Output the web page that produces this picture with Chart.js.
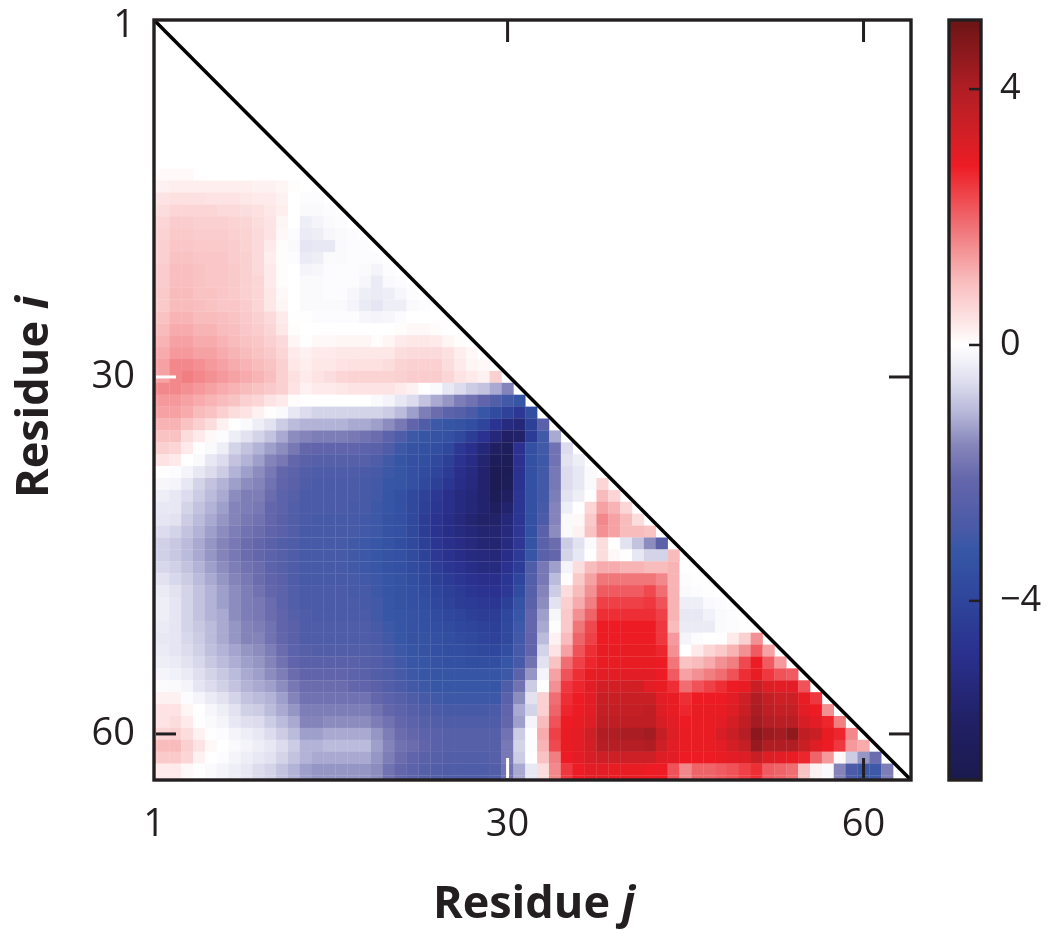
<!DOCTYPE html>
<html><head><meta charset="utf-8">
<style>html,body{margin:0;padding:0;background:#fff;width:1050px;height:938px;overflow:hidden}canvas{position:absolute;top:0;filter:blur(.5px)}</style>
<script src="https://cdn.jsdelivr.net/npm/chart.js@4"></script></head><body>
<canvas id="main" width="1050" height="938" style="left:0"></canvas>
<canvas id="bar" width="120" height="938" style="left:930px"></canvas>
<script>
const xTicks=[30,60], yTicks=[30,60], barTicks=[-4,0,4];
const xTitle=['Residue ','j'], yTitle=['Residue ','i'];
const cmapValues=[-6.8,-5.9,-4.8,-3.9,-3.2,-2.85,-2.1,-1.55,-1.1,-.6,-.2,0,.4,1,1.8,2.8,3.3,4,5.08];
const cmapColors=['#1a1a4e','#212065','#2a318f','#2f479c','#3757a6','#4a5aa7','#6466ab','#8787bb','#b3b3d7','#dcdcee','#f4f4fa','#ffffff','#fde3e3','#f9bcbd','#f0767a','#ed1c24','#d21f26','#b01e24','#6b1416'];
const row13=[.08,.08,.08];
const row14=[.2,.25,.25,.25,.25,.25,.25,.25,.2,.2,.15,.05,0];
const row15=[.4,.45,.45,.45,.4,.4,.4,.35,.3,.3,.2,0,-.05,-.05];
const row16=[.5,.6,.6,.6,.6,.55,.55,.5,.45,.35,.25,0,-.1,-.1,-.05];
const row17=[.6,.75,.75,.7,.7,.7,.65,.6,.5,.4,.15,0,-.3,-.2,-.1,-.05];
const row18=[.65,.8,.8,.75,.75,.75,.7,.65,.55,.4,.1,-.05,-.35,-.3,-.15,-.1,-.05];
const row19=[.7,.85,.85,.8,.8,.8,.75,.65,.55,.3,.05,-.1,-.45,-.4,-.4,-.1,-.05,-.05];
const row20=[.7,.9,.9,.85,.85,.85,.75,.7,.55,.25,.05,-.05,-.35,-.3,-.1,-.1,-.05,-.05,-.05];
const row21=[.75,.95,.95,.9,.85,.85,.8,.7,.55,.3,.05,0,-.2,-.15,-.05,-.05,-.05,-.1,-.2,-.05];
const row22=[.75,.95,.95,.9,.85,.85,.8,.7,.6,.3,.05,0,-.1,-.1,-.05,-.05,-.05,-.15,-.35,-.1,-.05];
const row23=[.8,1,1,.9,.9,.85,.8,.7,.6,.35,.1,0,-.1,-.1,-.05,-.05,-.15,-.3,-.35,-.3,-.15,-.05];
const row24=[.8,1,1,.95,.9,.85,.85,.75,.6,.35,.15,0,-.1,-.1,-.1,-.1,-.2,-.35,-.45,-.3,-.3,-.1,-.05];
const row25=[.9,1.1,1.1,1,1,.95,.9,.8,.7,.55,.3,.02,-.02,-.05,-.05,-.05,-.05,-.15,-.2,-.15,-.05,0,0,0];
const row26=[1,1.2,1.2,1.1,1.1,1,.95,.85,.75,.6,.35,.05,0,0,0,0,0,0,0,0,.05,.1,.1,.05,0];
const row27=[1.1,1.3,1.3,1.2,1.2,1.1,1,.9,.85,.7,.55,.15,.02,.1,.1,.15,.15,.15,.05,.15,.3,.35,.35,.3,.15,.05];
const row28=[1.2,1.4,1.4,1.3,1.3,1.2,1.1,1,.9,.8,.6,.3,.2,.3,.3,.35,.35,.35,.35,.35,.5,.55,.55,.55,.45,.25,.1];
const row29=[1.3,1.6,1.6,1.5,1.4,1.3,1.2,1.1,1,.9,.7,.35,.25,.35,.35,.4,.45,.45,.45,.5,.65,.7,.7,.7,.5,.3,.15,.1];
const row30=[1.3,1.6,1.7,1.6,1.5,1.4,1.3,1.2,1.1,.95,.7,.45,.3,.4,.5,.6,.65,.65,.65,.65,.7,.75,.75,.75,.6,.4,.3,.2,.7];
const row31=[1.6,1.6,1.5,1.4,1.3,1.2,1.1,1,.9,.8,.7,.4,.2,.3,.3,.35,.4,.4,.4,.4,.3,.2,0,-.1,-.4,-.6,-.8,-.9,-1.2,-1.6];
const row32=[1.4,1.4,1.3,1.2,1.1,1,.9,.7,.6,.4,.3,.05,0,0,0,0,0,0,-.1,-.2,-.4,-.6,-.9,-1.2,-1.4,-1.7,-1.9,-2.2,-2.6,-3,-3.3];
const row33=[1.3,1.3,1.2,1,.9,.7,.5,.4,.2,.05,-.1,-.4,-.6,-.7,-.7,-.7,-.7,-.7,-.7,-.8,-1,-1.3,-1.7,-2,-2.3,-2.5,-2.8,-3.2,-3.7,-4.1,-4.5,-3.6];
const row34=[1.1,1.1,.9,.7,.5,.2,0,-.1,-.3,-.5,-.8,-1,-1.1,-1.1,-1.1,-1.1,-1.2,-1.2,-1.3,-1.5,-1.8,-2.2,-2.7,-3.1,-3.3,-3.4,-3.6,-4,-4.7,-5.2,-5.4,-4.2,-2.4];
const row35=[.9,.9,.5,.3,.1,-.05,-.3,-.5,-.7,-.9,-1.2,-1.5,-1.6,-1.7,-1.7,-1.7,-1.8,-1.9,-2,-2.3,-2.7,-3.1,-3.3,-3.4,-3.5,-3.8,-4.3,-4.8,-5.4,-5.9,-5.8,-4.4,-3,-1.2];
const row36=[.7,.6,.3,0,-.1,-.3,-.7,-.9,-1.1,-1.3,-1.5,-1.8,-2.1,-2.2,-2.2,-2.2,-2.2,-2.3,-2.4,-2.7,-3.1,-3.4,-3.5,-3.6,-3.9,-4.5,-4.9,-5.4,-6,-6.2,-4.8,-3.5,-3,-1.9,-.6];
const row37=[.4,.3,0,-.1,-.4,-.6,-.9,-1.1,-1.3,-1.6,-1.8,-2.1,-2.4,-2.5,-2.5,-2.5,-2.5,-2.5,-2.7,-3,-3.3,-3.5,-3.6,-3.8,-4.2,-4.7,-5.1,-5.6,-6.3,-6.4,-4.8,-3.5,-3.1,-1.9,-.5,-.3];
const row38=[-.02,-.05,-.2,-.4,-.6,-.8,-1.1,-1.3,-1.5,-1.8,-2.1,-2.3,-2.6,-2.7,-2.7,-2.7,-2.7,-2.8,-2.9,-3.1,-3.3,-3.5,-3.7,-4,-4.4,-4.9,-5.2,-5.7,-6.6,-6.5,-4.8,-3.5,-3,-1.8,-.6,-.4,-.1];
const row39=[-.15,-.2,-.4,-.7,-.9,-1.1,-1.3,-1.5,-1.6,-1.9,-2.2,-2.4,-2.7,-2.8,-2.8,-2.8,-2.8,-2.9,-3,-3.2,-3.3,-3.5,-3.8,-4.2,-4.6,-5,-5.3,-5.7,-6.6,-6.4,-4.7,-3.5,-3,-1.8,-.6,-.4,-.1,.6];
const row40=[-.3,-.4,-.6,-.8,-1,-1.2,-1.5,-1.7,-1.7,-2,-2.3,-2.5,-2.8,-2.8,-2.8,-2.8,-2.8,-2.9,-3,-3.3,-3.5,-3.8,-4.1,-4.5,-4.9,-5.2,-5.4,-5.7,-6.5,-6,-4.6,-3.5,-3,-1.7,-.5,-.3,0,1,.6];
const row41=[-.4,-.4,-.7,-.9,-1.1,-1.3,-1.6,-1.7,-1.8,-2.1,-2.3,-2.6,-2.8,-2.8,-2.8,-2.8,-2.9,-2.9,-3.1,-3.3,-3.5,-3.8,-4.2,-4.6,-4.9,-5.2,-5.4,-5.7,-6.1,-5.7,-4.6,-3.5,-2.9,-1.6,-.3,0,.6,1.3,1.1,.6];
const row42=[-.45,-.5,-.8,-1,-1.2,-1.4,-1.6,-1.8,-1.9,-2.1,-2.4,-2.6,-2.8,-2.9,-2.9,-2.9,-2.9,-3,-3.1,-3.4,-3.5,-3.8,-4.3,-4.7,-5,-5.3,-5.6,-5.8,-5.8,-5.4,-4.6,-3.5,-2.8,-1.6,-.1,.1,.8,1.6,1.3,1,.5];
const row43=[-.6,-.7,-.9,-1.1,-1.3,-1.5,-1.7,-1.9,-2,-2.2,-2.4,-2.6,-2.9,-2.9,-2.9,-2.9,-2.9,-3,-3.1,-3.4,-3.5,-3.8,-4.3,-4.7,-5,-5.2,-5.4,-5.6,-5.6,-5.3,-4.5,-3.5,-2.4,-1.5,-.1,.2,.9,1.5,1.3,1,1,.9];
const row44=[-.75,-.85,-1,-1.2,-1.4,-1.6,-1.8,-2,-2.1,-2.4,-2.6,-2.7,-2.9,-2.9,-2.9,-2.9,-3,-3.1,-3.2,-3.4,-3.6,-3.8,-4.2,-4.6,-4.9,-5.1,-5.3,-5.5,-5.6,-5.2,-4.5,-3.4,-2.4,-2,-.8,-.5,-.1,.5,0,-.5,-.9,-1.5,-2.4];
const row45=[-.75,-.85,-1,-1.2,-1.4,-1.6,-1.8,-2,-2.1,-2.3,-2.5,-2.7,-2.9,-2.9,-2.9,-2.9,-3,-3.1,-3.2,-3.4,-3.5,-3.7,-4.1,-4.5,-4.8,-5,-5.2,-5.3,-5.4,-5,-4.4,-3.3,-2.4,-2.1,-.7,-.4,0,.5,.1,.02,-.4,-.7,-.7,1];
const row46=[-.65,-.75,-.9,-1.1,-1.3,-1.5,-1.7,-1.9,-2,-2.3,-2.5,-2.7,-2.9,-2.9,-2.9,-2.9,-3,-3.1,-3.2,-3.4,-3.5,-3.7,-3.9,-4.3,-4.6,-4.8,-5,-5.2,-5.2,-4.8,-4.3,-2.7,-1.8,-1.3,-.2,.5,1,1.2,1.2,1.1,1.1,1,1,1.1,-.02];
const row47=[-.5,-.65,-.8,-1,-1.2,-1.4,-1.6,-1.8,-2,-2.2,-2.4,-2.7,-2.9,-2.9,-2.9,-2.9,-2.9,-3,-3.1,-3.3,-3.4,-3.6,-3.8,-4.2,-4.4,-4.6,-4.8,-4.9,-4.9,-4.6,-4,-2.6,-1.8,-1,.05,.8,1.3,1.8,1.8,1.8,1.8,1.8,1.6,1.1,-.05,-.02];
const row48=[-.35,-.5,-.7,-.9,-1.1,-1.3,-1.5,-1.7,-1.9,-2.1,-2.3,-2.6,-2.8,-2.8,-2.8,-2.8,-2.9,-2.9,-3.1,-3.3,-3.4,-3.5,-3.7,-4,-4.2,-4.4,-4.6,-4.7,-4.8,-4.5,-3.7,-2.5,-1.6,-.8,.5,1,1.5,2.1,2.1,2.1,2.1,2.3,1.9,1.1,-.1,-.05,-.02];
const row49=[-.3,-.45,-.7,-.9,-1.1,-1.3,-1.5,-1.7,-1.8,-2,-2.3,-2.6,-2.8,-2.8,-2.8,-2.8,-2.8,-2.9,-3,-3.2,-3.4,-3.5,-3.6,-3.9,-4.1,-4.3,-4.4,-4.5,-4.6,-4.2,-3.4,-2.4,-1.5,-.5,.7,1.2,1.7,2.4,2.4,2.4,2.4,2.5,2.2,1.1,-.3,-.3,-.1,-.05];
const row50=[-.3,-.45,-.7,-.9,-1.1,-1.2,-1.5,-1.7,-1.8,-2,-2.2,-2.5,-2.7,-2.8,-2.8,-2.8,-2.8,-2.8,-3,-3.2,-3.3,-3.4,-3.5,-3.7,-3.9,-4,-4.2,-4.3,-4.3,-3.9,-3.2,-2.1,-1.3,-.15,.8,1.5,2,2.6,2.6,2.6,2.6,2.6,2.4,1.1,-.4,-.4,-.25,-.1,-.05];
const row51=[-.35,-.45,-.7,-.85,-1,-1.2,-1.4,-1.6,-1.7,-1.9,-2.2,-2.4,-2.7,-2.7,-2.7,-2.7,-2.7,-2.7,-2.9,-3.1,-3.3,-3.4,-3.5,-3.6,-3.7,-3.9,-4,-4.1,-4.2,-3.8,-3.1,-2.1,-1.2,-.03,.8,1.8,2.3,2.8,2.8,2.8,2.8,2.8,2.5,1,-.35,-.35,-.35,-.1,-.05,-.02];
const row52=[-.4,-.45,-.65,-.8,-1,-1.2,-1.4,-1.6,-1.6,-1.9,-2.1,-2.4,-2.7,-2.7,-2.7,-2.7,-2.7,-2.7,-2.8,-3,-3.2,-3.4,-3.4,-3.5,-3.6,-3.7,-3.8,-4,-4.1,-3.8,-3,-2.2,-1,.2,1,2,2.4,2.8,2.8,2.8,2.8,2.8,2.5,1.4,-.2,-.05,0,.02,.3,.7,1.5];
const row53=[-.35,-.45,-.6,-.75,-.95,-1.1,-1.25,-1.4,-1.5,-1.7,-2,-2.3,-2.5,-2.6,-2.6,-2.6,-2.6,-2.6,-2.7,-2.9,-3.1,-3.3,-3.4,-3.5,-3.6,-3.6,-3.7,-3.8,-3.9,-3.6,-2.9,-2.2,-.7,.4,1.3,2.2,2.6,2.9,2.9,2.9,2.9,2.9,2.7,1.5,0,.3,.6,.8,1.1,1.5,2.1,1.3];
const row54=[-.3,-.35,-.5,-.65,-.85,-1,-1.15,-1.3,-1.4,-1.6,-1.9,-2.2,-2.4,-2.4,-2.4,-2.4,-2.4,-2.5,-2.6,-2.8,-3,-3.2,-3.3,-3.4,-3.5,-3.5,-3.6,-3.6,-3.6,-3.3,-2.9,-1.9,-.5,.9,1.9,2.4,2.7,2.9,2.9,2.9,2.9,2.9,2.8,1.8,.9,1,1.2,1.5,1.7,2.3,2.8,2.1,1.4];
const row55=[-.2,-.25,-.35,-.55,-.7,-.85,-1,-1.2,-1.3,-1.5,-1.7,-2,-2.2,-2.2,-2.2,-2.2,-2.3,-2.4,-2.6,-2.7,-2.9,-3.1,-3.2,-3.3,-3.3,-3.3,-3.3,-3.3,-3.3,-3.1,-2.3,-1.4,-.2,1.3,2.2,2.6,2.9,3,3,3,3,3,2.8,2.1,1.3,1.5,1.7,1.9,2.2,2.6,2.9,2.5,2.2,2.1];
const row56=[-.08,-.1,-.2,-.45,-.6,-.75,-.9,-1.1,-1.2,-1.3,-1.5,-1.8,-2,-2,-2,-2,-2.1,-2.2,-2.4,-2.6,-2.8,-3,-3.1,-3.2,-3.2,-3.2,-3.2,-3.2,-3.3,-2.7,-1.9,-.8,0,1.5,2.5,2.7,3,3.3,3.3,3.3,3.3,3,2.9,2.6,1.9,2.2,2.4,2.6,2.8,2.9,3.5,3.1,3,3,2.2];
const row57=[.2,.2,-.05,-.2,-.35,-.5,-.7,-.9,-1,-1.1,-1.3,-1.6,-1.9,-1.9,-1.9,-1.9,-1.9,-1.9,-2.1,-2.3,-2.5,-2.7,-2.9,-3,-3.1,-3.1,-3.1,-3.1,-3.1,-2.4,-1.5,-.5,.7,1.9,2.6,2.8,3,3.5,3.5,3.5,3.5,3.5,3,2.9,2.6,2.8,2.8,2.8,3,3.4,4,3.6,3.4,3.4,2.9,2.5];
const row58=[.4,.4,.15,0,-.15,-.3,-.5,-.75,-.8,-1,-1.2,-1.4,-1.7,-1.7,-1.7,-1.7,-1.7,-1.7,-1.9,-2.1,-2.3,-2.5,-2.7,-2.8,-2.9,-2.9,-2.9,-2.9,-2.8,-2.2,-1.2,-.7,.7,2,2.7,2.8,3,3.6,3.6,3.6,3.6,3.7,3.1,2.9,2.7,2.9,2.9,2.9,3.1,3.5,4.1,3.7,3.6,3.6,3,2.8,1.5];
const row59=[.4,.5,.3,.02,-.1,-.2,-.4,-.55,-.6,-.8,-1,-1.2,-1.6,-1.6,-1.5,-1.5,-1.5,-1.5,-1.7,-1.9,-2.1,-2.3,-2.5,-2.6,-2.7,-2.7,-2.7,-2.7,-2.7,-2.1,-1.3,-.2,1,2.2,2.8,2.9,3.1,3.7,3.7,3.7,3.7,3.7,3.2,3,2.8,2.9,2.9,3,3.3,3.7,4.2,3.9,3.8,3.8,3.2,3,2.7,1.7];
const row60=[.6,.7,.5,.2,.02,-.05,-.2,-.3,-.4,-.6,-.8,-1,-1.3,-1.3,-1.2,-1.2,-1.2,-1.2,-1.4,-1.7,-2,-2.1,-2.3,-2.4,-2.5,-2.5,-2.5,-2.5,-2.5,-1.9,-.8,-.03,1.2,2.4,2.9,3,3.4,4,4,4.1,4.1,4.2,3.6,3.1,2.9,2.9,2.9,3.2,3.5,3.9,4.6,4.3,4.2,4.5,3.7,3.5,2.9,2.7,1.6];
const row61=[1,1,.7,.4,.1,0,-.1,-.2,-.3,-.4,-.6,-.8,-1.1,-1.1,-1,-1,-1,-1,-1.3,-1.6,-1.9,-2,-2.2,-2.4,-2.5,-2.5,-2.5,-2.5,-2.5,-1.8,-.7,-.05,1.1,2.3,2.9,3,3.3,3.9,3.9,3.9,3.9,4,3.4,3,2.9,2.9,2.9,3,3.3,3.6,4.4,4,4,4,3.5,3.1,2.8,2.5,1.4,1.2];
const row62=[.8,.8,.6,.2,0,-.05,-.2,-.3,-.4,-.5,-.7,-.9,-1.1,-1.2,-1.2,-1.2,-1.2,-1.2,-1.4,-1.7,-2,-2.2,-2.4,-2.5,-2.6,-2.6,-2.6,-2.6,-2.5,-1.8,-.8,0,.9,1.7,2.8,3,3.2,3.4,3.4,3.4,3.4,3.4,3.1,3,2.8,2.8,2.8,2.9,3,3.1,3.5,3.1,3,2.9,2.7,2,1.4,.1,-.8,-1.4,-2];
const row63=[.3,.3,.1,.02,-.1,-.2,-.3,-.4,-.6,-.7,-.9,-1.1,-1.3,-1.4,-1.4,-1.4,-1.4,-1.4,-1.5,-1.9,-2.1,-2.3,-2.5,-2.6,-2.7,-2.7,-2.7,-2.7,-2.6,-1.9,-1.2,-.4,.5,1.6,2.5,2.8,3,3,2.9,2.9,2.9,2.8,2.8,2.2,1.6,2,2,2.1,2.2,2.4,2.6,2.1,2,1.9,.9,.2,-.1,-1.6,-2.8,-3.1,-3.1,-1.7];
const rows=[row13,row14,row15,row16,row17,row18,row19,row20,row21,row22,row23,row24,row25,row26,row27,row28,row29,row30,row31,row32,row33,row34,row35,row36,row37,row38,row39,row40,row41,row42,row43,row44,row45,row46,row47,row48,row49,row50,row51,row52,row53,row54,row55,row56,row57,row58,row59,row60,row61,row62,row63];
const firstRow=13;

function hex(c){return [1,3,5].map(i=>parseInt(c.substr(i,2),16));}
function colorFor(v){
  let k=0; while(k<cmapValues.length-2&&v>cmapValues[k+1])k++;
  const t=Math.max(0,Math.min(1,(v-cmapValues[k])/(cmapValues[k+1]-cmapValues[k])));
  const a=hex(cmapColors[k]),b=hex(cmapColors[k+1]);
  return 'rgb('+a.map((p,n)=>Math.round(p+(b[n]-p)*t)).join(',')+')';
}
const xMin=.2,xMax=64,yMin=0,yMax=63.87,yFirstLabelAt=.5;
const INK='#231f20', FONT='"Open Sans"';
const cells=[],cellColors=[];
function addCell(x,y,v){cells.push({x,y});cellColors.push(colorFor(v));}
rows.forEach((r,ri)=>{const y=firstRow+ri;r.forEach((v,j)=>{
  addCell(j+1,y,v);
  if(j===0)addCell(0,y,v);               // sliver of the grid cut by the left frame
  if(y===rows.length+firstRow-1){addCell(j+1,y+1,v);if(j===0)addCell(0,y+1,v);} // sliver cut by the bottom frame
});});

const frame={id:'frame',afterDatasetsDraw(c){
  const g=c.ctx,a=c.chartArea,X=c.scales.x,Y=c.scales.y,L=22;
  g.save();g.lineWidth=3.4;g.strokeStyle=INK;g.strokeRect(a.left,a.top,a.width,a.height);
  const seg=(x0,y0,x1,y1,col)=>{g.beginPath();g.strokeStyle=col;g.lineWidth=3;g.moveTo(x0,y0);g.lineTo(x1,y1);g.stroke();};
  xTicks.forEach((t,n)=>{const p=X.getPixelForValue(t);
    seg(p,a.top,p,a.top+L,INK);
    seg(p,a.bottom-2,p,a.bottom-L,n===0?'#fff':INK);});
  yTicks.forEach((t,n)=>{const p=Y.getPixelForValue(t);
    seg(a.right,p,a.right-L,p,INK);
    seg(a.left+2,p,a.left+L,p,n===0?'#fff':INK);});
  g.fillStyle=INK;g.textBaseline='alphabetic';
  const title=(parts,cx,cy,rot)=>{
    g.save();g.translate(cx,cy);g.rotate(rot);
    const f1='700 45px '+FONT,f2='italic 700 45px '+FONT;
    g.font=f1;const w1=g.measureText(parts[0]).width;g.font=f2;const w2=g.measureText(parts[1]).width;
    g.textAlign='left';
    g.font=f1;g.fillText(parts[0],-(w1+w2)/2,0);
    g.font=f2;g.fillText(parts[1],-(w1+w2)/2+w1,0);
    g.restore();};
  title(xTitle,534,918,0);
  title(yTitle,48,397,-Math.PI/2);
  g.restore();
}};

new Chart(document.getElementById('main'),{
  type:'scatter',
  data:{datasets:[
    {label:'diagonal',type:'line',order:0,data:[{x:xMin,y:yMin},{x:xMax,y:yMax}],borderColor:'#000',borderWidth:3.5,pointRadius:0,clip:false},
    {label:'cells',order:1,data:cells,pointStyle:'rect',pointRadius:8.6,pointBorderWidth:0,pointBackgroundColor:cellColors}
  ]},
  plugins:[frame],
  options:{responsive:false,animation:false,events:[],
    layout:{padding:{top:20,right:139,left:0,bottom:0}},
    plugins:{legend:{display:false},tooltip:{enabled:false}},
    scales:{
      x:{type:'linear',min:xMin,max:xMax,grid:{display:false,drawTicks:false},border:{display:false},
        afterFit(s){s.height=158;s.paddingLeft=0;s.paddingRight=0;},
        afterBuildTicks(s){s.ticks=[xMin,...xTicks].map(v=>({value:v}));},
        ticks:{autoSkip:false,maxRotation:0,padding:22,color:INK,font:{family:FONT,size:38},callback:v=>v===xMin?'1':String(v)}},
      y:{type:'linear',reverse:true,min:yMin,max:yMax,grid:{display:false,drawTicks:false},border:{display:false},
        afterFit(s){s.width=154;s.paddingTop=0;s.paddingBottom=0;},
        afterBuildTicks(s){s.ticks=[yFirstLabelAt,...yTicks].map(v=>({value:v}));},
        ticks:{autoSkip:false,padding:19,color:INK,font:{family:FONT,size:38},callback:v=>v===yFirstLabelAt?'1':String(v)}}
    }}
});

const barFrame={id:'barFrame',afterDatasetsDraw(c){
  const g=c.ctx,a=c.chartArea,Y=c.scales.y;
  g.save();g.strokeStyle=INK;g.lineWidth=3.4;g.strokeRect(a.left,a.top,a.width,a.height);
  g.lineWidth=2.5;barTicks.forEach(t=>{const p=Y.getPixelForValue(t);g.beginPath();g.moveTo(a.right,p);g.lineTo(a.right-12,p);g.stroke();});
  g.restore();
}};
const barMin=-6.8,barMax=5.08;
new Chart(document.getElementById('bar'),{
  type:'bar',
  data:{labels:['scale'],datasets:[{data:[[barMin,barMax]],barPercentage:1,categoryPercentage:1,borderWidth:0,
    backgroundColor(ctx){
      const a=ctx.chart.chartArea; if(!a)return '#fff';
      const y=ctx.chart.scales.y,gr=ctx.chart.ctx.createLinearGradient(0,y.getPixelForValue(barMin),0,y.getPixelForValue(barMax));
      cmapValues.forEach((v,i)=>gr.addColorStop((v-barMin)/(barMax-barMin),cmapColors[i]));
      return gr;
    }}]},
  plugins:[barFrame],
  options:{responsive:false,animation:false,events:[],
    layout:{padding:{top:20,bottom:158,left:19,right:0}},
    plugins:{legend:{display:false},tooltip:{enabled:false}},
    scales:{
      x:{display:false},
      y:{position:'right',min:barMin,max:barMax,grid:{display:false,drawTicks:false},border:{display:false},
        afterFit(s){s.width=69;s.paddingTop=0;s.paddingBottom=0;},
        afterBuildTicks(s){s.ticks=barTicks.map(v=>({value:v}));},
        ticks:{autoSkip:false,padding:19,color:INK,font:{family:FONT,size:36},callback:v=>v<0?'\u2212'+Math.abs(v):String(v)}}
    }}
});
</script></body></html>
